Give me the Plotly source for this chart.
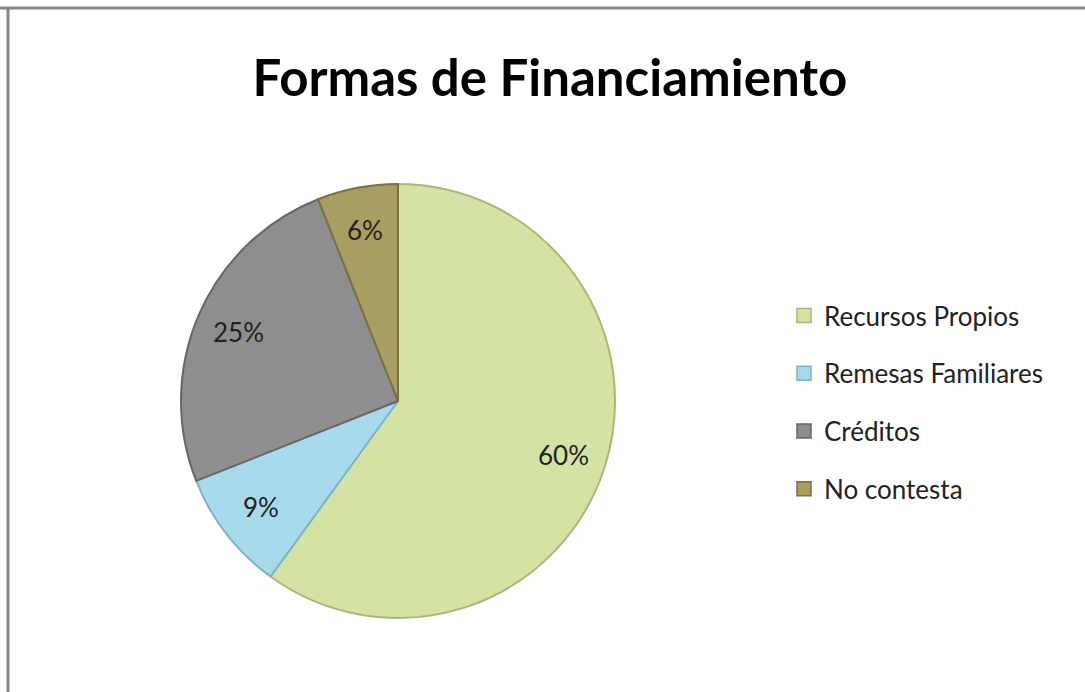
import numpy as np
import plotly.graph_objects as go

categories = ["Recursos Propios", "Remesas Familiares", "Créditos", "No contesta"]
values = [60, 9, 25, 6]
colors = ["#D4E3A4", "#A7DBEB", "#8E8E8E", "#A99D62"]
edge_colors = ["#A9B878", "#7FB3C4", "#666666", "#7A7040"]
title_text = "Formas de Financiamiento"

FONT = "Lato, 'Open Sans', sans-serif"
W, H = 1085, 692

# pie placement (pixels)
cx, cy, R = 398, 401, 217
dom_x = [(cx - R) / W, (cx + R) / W]
dom_y = [(H - (cy + R)) / H, (H - (cy - R)) / H]

fig = go.Figure()
fig.add_trace(go.Pie(
    labels=categories,
    values=values,
    sort=False,
    direction="clockwise",
    rotation=0,
    marker=dict(colors=colors, line=dict(color=edge_colors, width=2)),
    textinfo="none",
    domain=dict(x=dom_x, y=dom_y),
    showlegend=False,
    hoverinfo="label+percent",
))

# percentage labels, placed from the data (clockwise from 12 o'clock)
vals = np.array(values, dtype=float)
frac = vals / vals.sum()
mid = (np.cumsum(frac) - frac / 2) * 2 * np.pi
rr = 0.8 * R
for f, a in zip(frac, mid):
    px = cx + rr * np.sin(a)
    py = cy - rr * np.cos(a)
    fig.add_annotation(
        x=px / W, y=1 - py / H, xref="paper", yref="paper",
        text=f"{f * 100:.0f}%", showarrow=False,
        xanchor="center", yanchor="middle",
        font=dict(family=FONT, size=26, color="#222222"),
    )

# legend entries, one per category, so that the spacing can be set
for name, c, ec in zip(categories, colors, edge_colors):
    fig.add_trace(go.Scatter(
        x=[None], y=[None], mode="markers", name=name, legendgroup=name,
        marker=dict(symbol="square", size=14, color=c, line=dict(color=ec, width=1.5)),
        showlegend=True, hoverinfo="skip",
    ))

fig.update_layout(
    width=W, height=H,
    margin=dict(l=0, r=0, t=0, b=0),
    paper_bgcolor="white", plot_bgcolor="white",
    title=dict(text="<b>" + title_text + "</b>", x=550 / W, xanchor="center",
               y=1 - 78 / H, yanchor="middle",
               font=dict(family=FONT, size=51, color="black")),
    xaxis=dict(visible=False), yaxis=dict(visible=False),
    legend=dict(x=784 / W, y=1 - 292 / H, xanchor="left", yanchor="top",
                font=dict(family=FONT, size=26, color="#222222"),
                tracegroupgap=21, itemwidth=30, bgcolor="rgba(0,0,0,0)"),
    shapes=[
        dict(type="line", xref="paper", yref="paper", x0=0, x1=1, y0=1 - 8 / H, y1=1 - 8 / H,
             line=dict(color="#888888", width=3)),
        dict(type="line", xref="paper", yref="paper", x0=8 / W, x1=8 / W, y0=0, y1=1 - 8 / H,
             line=dict(color="#888888", width=3)),
    ],
)

fig.write_html("out.html", config={"displayModeBar": False},
               post_script="document.body.style.margin='0px';")
